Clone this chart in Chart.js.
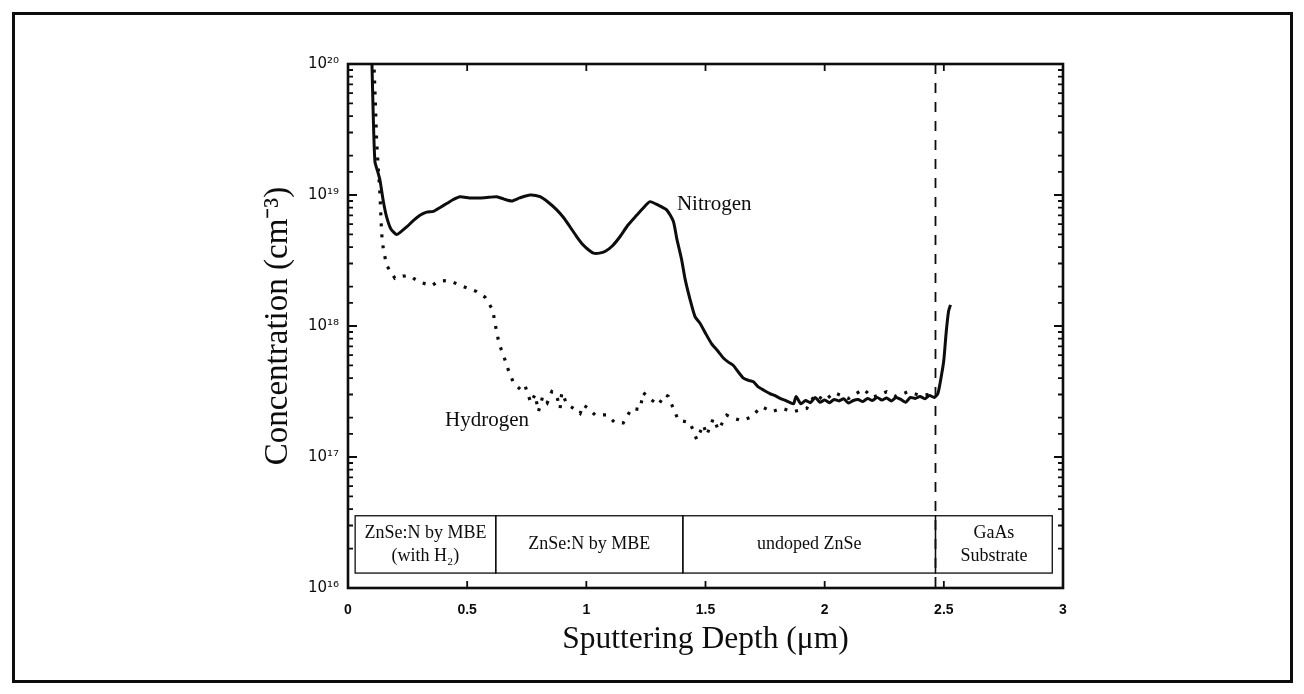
<!DOCTYPE html>
<html><head><meta charset="utf-8">
<script src="https://cdn.jsdelivr.net/npm/chart.js@4.4.1/dist/chart.umd.min.js"></script>
<style>html,body{margin:0;padding:0;background:#fff;overflow:hidden}#wrap{width:1304px;height:694px}</style>
</head><body><div id="wrap"><canvas id="c" width="1304" height="694"></canvas></div>
<script>
// ---- data ----
const nitrogenDepth = [0.100,0.106,0.113,0.125,0.134,0.148,0.162,0.18,0.204,0.225,0.246,0.275,0.302,0.33,0.358,0.385,0.414,0.44,0.47,0.51,0.554,0.59,0.624,0.655,0.687,0.72,0.764,0.806,0.84,0.876,0.905,0.932,0.96,0.987,1.01,1.03,1.055,1.078,1.11,1.141,1.175,1.211,1.24,1.267,1.30,1.337,1.365,1.38,1.40,1.414,1.435,1.456,1.477,1.50,1.526,1.55,1.575,1.596,1.617,1.64,1.659,1.68,1.701,1.72,1.743,1.77,1.79,1.813,1.835,1.855,1.87,1.88,1.90,1.92,1.94,1.96,1.98,2.00,2.02,2.04,2.06,2.08,2.10,2.12,2.14,2.16,2.18,2.20,2.22,2.24,2.26,2.28,2.30,2.32,2.34,2.36,2.38,2.40,2.42,2.44,2.46,2.475,2.49,2.50,2.51,2.52,2.528];
const nitrogenConc = [1.1e20,4e19,1.8e19,1.5e19,1.3e19,9e18,6.8e18,5.5e18,5.0e18,5.3e18,5.7e18,6.4e18,7.0e18,7.4e18,7.5e18,8.0e18,8.6e18,9.2e18,9.7e18,9.5e18,9.5e18,9.6e18,9.7e18,9.3e18,9.0e18,9.5e18,1.0e19,9.7e18,8.8e18,7.7e18,6.7e18,5.7e18,4.8e18,4.15e18,3.8e18,3.6e18,3.6e18,3.7e18,4.1e18,4.8e18,5.9e18,7.0e18,8.0e18,8.9e18,8.4e18,7.7e18,6.3e18,4.6e18,3.2e18,2.3e18,1.6e18,1.18e18,1.05e18,8.8e17,7.3e17,6.5e17,5.7e17,5.3e17,5.0e17,4.4e17,4.0e17,3.85e17,3.75e17,3.45e17,3.25e17,3.05e17,2.95e17,2.8e17,2.7e17,2.6e17,2.55e17,2.9e17,2.55e17,2.7e17,2.6e17,2.85e17,2.62e17,2.72e17,2.6e17,2.75e17,2.68e17,2.78e17,2.58e17,2.7e17,2.75e17,2.65e17,2.8e17,2.7e17,2.85e17,2.72e17,2.82e17,2.68e17,2.85e17,2.75e17,2.62e17,2.85e17,2.8e17,2.9e17,2.78e17,2.95e17,2.85e17,3.05e17,4.2e17,5.5e17,9e17,1.3e18,1.45e18];

const hydrogenDepth = [0.108,0.115,0.12,0.128,0.134,0.141,0.148,0.162,0.197,0.23,0.26,0.295,0.351,0.38,0.414,0.435,0.484,0.54,0.575,0.607,0.62,0.634,0.652,0.673,0.694,0.725,0.743,0.767,0.785,0.799,0.817,0.836,0.855,0.874,0.89,0.897,0.918,0.946,0.974,0.988,1.008,1.037,1.085,1.12,1.155,1.19,1.225,1.239,1.274,1.302,1.33,1.344,1.365,1.386,1.435,1.463,1.491,1.505,1.533,1.554,1.589,1.617,1.652,1.687,1.736,1.778,1.82,1.869,1.925,1.96,2.0,2.04,2.1,2.163,2.2,2.232,2.26,2.3,2.35,2.4,2.44,2.465];
const hydrogenConc = [1.1e20,5e19,2.6e19,1.5e19,1.03e19,5.1e18,3.9e18,2.9e18,2.31e18,2.4e18,2.42e18,2.18e18,2.03e18,2.2e18,2.22e18,2.18e18,2.0e18,1.83e18,1.66e18,1.33e18,9.8e17,7.3e17,6.0e17,4.6e17,3.7e17,3.25e17,3.5e17,2.6e17,3.0e17,2.22e17,2.9e17,2.6e17,3.16e17,3.0e17,2.35e17,3.1e17,2.54e17,2.35e17,2.15e17,2.5e17,2.35e17,2.09e17,2.1e17,1.83e17,1.82e17,2.35e17,2.3e17,3.1e17,2.72e17,2.5e17,3.0e17,2.9e17,2.35e17,1.91e17,1.83e17,1.36e17,1.76e17,1.47e17,1.97e17,1.61e17,2.09e17,1.97e17,1.9e17,2.0e17,2.42e17,2.22e17,2.35e17,2.22e17,2.35e17,3.0e17,2.7e17,3.1e17,2.8e17,3.3e17,2.85e17,3.0e17,3.15e17,2.9e17,3.15e17,2.95e17,3.0e17,3.0e17];

const interfaceDepth = [2.465, 2.465];
const interfaceConc = [1e20, 1e16];

const layerBounds = [0.03, 0.62, 1.405, 2.465, 2.955];
const layerLabels = [["ZnSe:N by MBE","(with H\u2082)"],["ZnSe:N by MBE"],["undoped ZnSe"],["GaAs","Substrate"]];
const layerBoxConc = [3.56e16, 1.30e16];

const xTickValues = [0,0.5,1,1.5,2,2.5,3];
const xTickLabels = ["0","0.5","1","1.5","2","2.5","3"];
const yTickValues = [1e16,1e17,1e18,1e19,1e20];
const yTickLabels = ["10\u00B9\u2076","10\u00B9\u2077","10\u00B9\u2078","10\u00B9\u2079","10\u00B2\u2070"];

const seriesNames = ["Nitrogen","Hydrogen"];
const seriesLabelAnchor = [[1.380, 7.68e18],[0.407, 1.73e17]];

// ---- chart ----
const pts = (xs, ys) => xs.map((x, i) => ({x, y: ys[i]}));
const INK = '#0d0d0d';
const SERIF = '"Liberation Serif", "Times New Roman", serif';

const decor = {
  id: 'decor',
  beforeDraw(chart) {
    const c = chart.ctx;
    c.save();
    c.fillStyle = '#fff';
    c.fillRect(0, 0, chart.width, chart.height);
    c.strokeStyle = INK; c.lineWidth = 3;
    c.strokeRect(13.5, 13.5, chart.width - 26, chart.height - 26);
    c.restore();
  },
  afterDatasetsDraw(chart) {
    const c = chart.ctx, a = chart.chartArea;
    const xs = chart.scales.x, ys = chart.scales.y;
    c.save();
    // layer boxes
    c.strokeStyle = INK; c.lineWidth = 1.3;
    const yt = ys.getPixelForValue(layerBoxConc[0]);
    const yb = ys.getPixelForValue(layerBoxConc[1]);
    c.font = '18px ' + SERIF;
    c.fillStyle = INK; c.textAlign = 'center'; c.textBaseline = 'middle';
    for (let i = 0; i < layerLabels.length; i++) {
      const x0 = xs.getPixelForValue(layerBounds[i]);
      const x1 = xs.getPixelForValue(layerBounds[i + 1]);
      c.strokeRect(x0, yt, x1 - x0, yb - yt);
      const lines = layerLabels[i];
      const cx = (x0 + x1) / 2, cy = (yt + yb) / 2;
      lines.forEach((t, k) => {
        c.fillText(t, cx, cy + (k - (lines.length - 1) / 2) * 23);
      });
    }
    // series labels
    c.font = '21px ' + SERIF;
    c.textAlign = 'left'; c.textBaseline = 'alphabetic';
    seriesNames.forEach((n, i) => {
      c.fillText(n, xs.getPixelForValue(seriesLabelAnchor[i][0]), ys.getPixelForValue(seriesLabelAnchor[i][1]));
    });
    // inward ticks
    c.lineWidth = 1.8;
    c.beginPath();
    ys.ticks.forEach(t => {
      const p = ys.getPixelForValue(t.value);
      const e = Math.log10(t.value);
      const major = Math.abs(e - Math.round(e)) < 1e-6;
      const L = major ? 9 : 5;
      c.moveTo(a.left, p); c.lineTo(a.left + L, p);
      c.moveTo(a.right, p); c.lineTo(a.right - L, p);
    });
    xs.ticks.forEach(t => {
      const p = xs.getPixelForValue(t.value);
      c.moveTo(p, a.bottom); c.lineTo(p, a.bottom - 7);
      c.moveTo(p, a.top); c.lineTo(p, a.top + 7);
    });
    c.stroke();
    // axes box
    c.lineWidth = 2.6;
    c.strokeRect(a.left, a.top, a.right - a.left, a.bottom - a.top);
    c.restore();
  }
};

new Chart(document.getElementById('c'), {
  type: 'scatter',
  data: {
    datasets: [
      { label: seriesNames[0], data: pts(nitrogenDepth, nitrogenConc), showLine: true,
        borderColor: INK, borderWidth: 3, pointRadius: 0, tension: 0.2, borderJoinStyle: 'round' },
      { label: seriesNames[1], data: pts(hydrogenDepth, hydrogenConc), showLine: true,
        borderColor: INK, borderWidth: 3.2, borderDash: [3, 8], pointRadius: 0, tension: 0 },
      { label: 'interface', data: pts(interfaceDepth, interfaceConc), showLine: true,
        borderColor: INK, borderWidth: 1.8, borderDash: [10, 9], pointRadius: 0 }
    ]
  },
  options: {
    responsive: false, animation: false, devicePixelRatio: 1,
    layout: { padding: { left: 240, top: 64, right: 241, bottom: 0 } },
    plugins: { legend: { display: false }, tooltip: { enabled: false } },
    scales: {
      x: {
        type: 'linear', min: 0, max: 3,
        grid: { display: false }, border: { display: false },
        ticks: { stepSize: 0.5, maxRotation: 0, padding: 6, color: INK,
          font: { family: '"Liberation Sans", Arial, sans-serif', size: 14, weight: 'bold' },
          callback: v => { const i = xTickValues.indexOf(v); return i >= 0 ? xTickLabels[i] : ''; } },
        title: { display: true, text: 'Sputtering Depth (\u03BCm)', color: INK,
          font: { family: SERIF, size: 31.5 },
          padding: { top: 0, bottom: 35 } },
        afterFit: s => { s.height = 106; }
      },
      y: {
        type: 'logarithmic', min: 1e16, max: 1e20,
        grid: { display: false }, border: { display: false },
        ticks: { autoSkip: false, padding: 1, color: INK,
          font: { family: '"DejaVu Sans", sans-serif', size: 15 },
          callback: v => { const i = yTickValues.findIndex(t => Math.abs(t - v) / t < 1e-6); return i >= 0 ? yTickLabels[i] : ''; } },
        title: { display: true, text: 'Concentration (cm\u207B\u00B3)', color: INK,
          font: { family: SERIF, size: 33 },
          padding: { top: 19, bottom: 0 } },
        afterFit: s => { s.width = 108; }
      }
    }
  },
  plugins: [decor]
});
</script>
</body></html>
